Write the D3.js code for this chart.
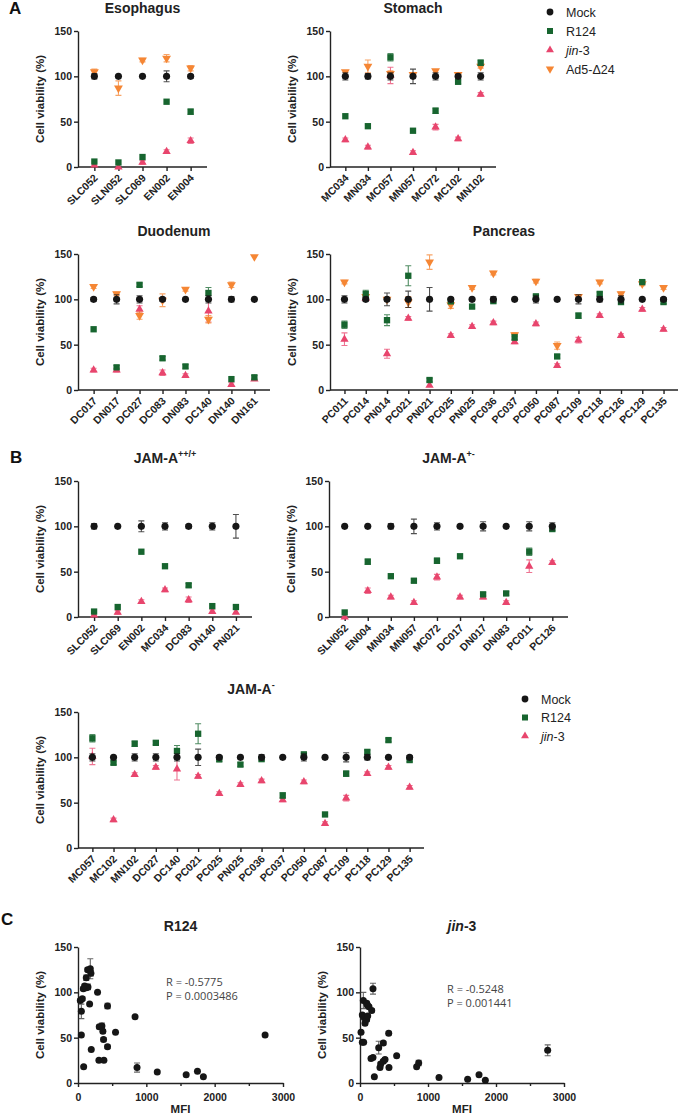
<!DOCTYPE html>
<html>
<head>
<meta charset="utf-8">
<script src="https://cdn.jsdelivr.net/npm/d3@7"></script>
<style>
  body { margin: 0; background: #fff; }
  svg { display: block; }
</style>
</head>
<body>
<svg id="chart"></svg>
<script>
// values: each point is [mean, error]
const esoCats = ['SLC052', 'SLN052', 'SLC069', 'EN002', 'EN004'];
const esoMock = [[100, 3], [100, 1], [100, 1], [100, 6], [100, 2]];
const esoR124 = [[6, 1], [5, 1], [11, 1], [72, 1], [61, 3]];
const esoJin3 = [[2, 1], [0, 1], [5, 2], [17, 2], [29, 3]];
const esoAd5 = [[105, 3], [87, 8], [118, 2], [120, 4], [109, 3]];

const stoCats = ['MC034', 'MN034', 'MC057', 'MN057', 'MC072', 'MC102', 'MN102'];
const stoMock = [[100, 4], [100, 3], [100, 4], [100, 8], [100, 4], [100, 2], [100, 4]];
const stoR124 = [[56, 1], [45, 1], [121, 4], [40, 2], [62, 3], [94, 2], [115, 3]];
const stoJin3 = [[30, 2], [22, 2], [101, 9], [16, 2], [44, 3], [31, 2], [80, 2]];
const stoAd5 = [[105, 1], [111, 7], [103, 3], [102, 2], [106, 1], [102, 1], [111, 2]];

const duoCats = ['DC017', 'DN017', 'DC027', 'DC083', 'DN083', 'DC140', 'DN140', 'DN161'];
const duoMock = [[100, 2], [100, 5], [100, 4], [100, 2], [100, 1], [100, 4], [100, 3], [100, 1]];
const duoR124 = [[67, 1], [25, 2], [116, 2], [35, 2], [26, 2], [107, 6], [12, 1], [14, 2]];
const duoJin3 = [[22, 2], [22, 2], [89, 4], [19, 3], [16, 2], [87, 12], [6, 2], [12, 1]];
const duoAd5 = [[114, 2], [106, 2], [82, 4], [99, 7], [111, 2], [78, 4], [116, 3], [147, 1]];

const panCats = ['PC011', 'PC014', 'PN014', 'PC021', 'PN021', 'PC025', 'PN025', 'PC036',
    'PC037', 'PC050', 'PC087', 'PC109', 'PC118', 'PC126', 'PC129', 'PC135'];
const panMock = [[100, 4], [100, 2], [100, 7], [100, 9], [100, 13], [100, 2], [100, 1], [100, 3],
    [100, 1], [100, 4], [100, 1], [100, 5], [100, 3], [100, 4], [100, 1], [100, 2]];
const panR124 = [[72, 4], [106, 4], [77, 6], [126, 11], [11, 2], [98, 3], [92, 2], [98, 2],
    [58, 3], [103, 3], [37, 2], [82, 3], [106, 2], [97, 2], [119, 2], [97, 2]];
const panJin3 = [[56, 7], [101, 2], [40, 5], [79, 2], [5, 1], [60, 2], [70, 2], [74, 2],
    [53, 2], [73, 2], [27, 2], [55, 3], [82, 2], [60, 2], [89, 2], [67, 2]];
const panAd5 = [[119, 2], [103, 2], [100, 2], [97, 6], [141, 8], [94, 4], [113, 2], [129, 2],
    [61, 2], [120, 2], [49, 4], [103, 2], [119, 2], [106, 2], [117, 2], [113, 2]];

const jppCats = ['SLC052', 'SLC069', 'EN002', 'MC034', 'DC083', 'DN140', 'PN021'];
const jppMock = [[100, 3], [100, 1], [100, 6], [100, 4], [100, 2], [100, 4], [100, 13]];
const jppR124 = [[6, 1], [11, 1], [72, 1], [56, 1], [35, 2], [12, 1], [11, 2]];
const jppJin3 = [[2, 1], [5, 2], [17, 2], [30, 2], [19, 3], [6, 2], [5, 1]];

const jpmCats = ['SLN052', 'EN004', 'MN034', 'MN057', 'MC072', 'DC017', 'DN017', 'DN083', 'PC011', 'PC126'];
const jpmMock = [[100, 1], [100, 1], [100, 3], [100, 8], [100, 4], [100, 1], [100, 5], [100, 1], [100, 5], [100, 4]];
const jpmR124 = [[5, 1], [61, 3], [45, 1], [40, 2], [62, 3], [67, 1], [25, 2], [26, 2], [72, 4], [97, 2]];
const jpmJin3 = [[0, 1], [29, 3], [22, 2], [16, 2], [44, 3], [22, 2], [22, 2], [16, 2], [56, 7], [60, 2]];

const jmCats = ['MC057', 'MC102', 'MN102', 'DC027', 'DC140', 'PC021', 'PC025', 'PN025', 'PC036',
    'PC037', 'PC050', 'PC087', 'PC109', 'PC118', 'PC129', 'PC135'];
const jmMock = [[100, 4], [100, 1], [100, 4], [100, 4], [100, 4], [100, 9], [100, 2], [100, 1], [100, 3],
    [100, 1], [100, 4], [100, 1], [100, 5], [100, 3], [100, 1], [100, 2]];
const jmR124 = [[121, 4], [94, 2], [115, 3], [116, 2], [107, 6], [126, 11], [98, 3], [92, 2], [98, 2],
    [58, 3], [103, 3], [37, 2], [82, 3], [106, 2], [119, 2], [97, 2]];
const jmJin3 = [[101, 9], [31, 2], [81, 2], [89, 2], [87, 12], [79, 2], [60, 2], [70, 2], [74, 2],
    [53, 2], [73, 2], [27, 2], [55, 3], [82, 2], [89, 2], [67, 2]];

// panel C: MFI against viability
const r124Mfi = [34, 63, 49, 49, 78, 121, 146, 97, 121, 141, 180, 189, 170, 286, 432, 311,
    350, 364, 374, 432, 549, 194, 83, 306, 379, 835, 864, 1160, 1583, 1748, 1835, 2738];
const r124Val = [91, 93, 79, 53, 104, 105, 106, 107, 116, 125, 126, 121, 87, 100, 85, 62,
    63, 57, 48, 40, 56, 37, 18, 25, 25, 73, 17, 12, 9, 13, 7, 53];
const r124Err = [2, 2, 8, 1, 2, 2, 3, 2, 3, 2, 11, 3, 1, 1, 3, 2,
    3, 2, 2, 2, 1, 1, 1, 1, 1, 1, 5, 1, 1, 1, 1, 1];

const jinMfi = [15, 34, 54, 49, 34, 64, 74, 98, 113, 108, 132, 172, 98, 191, 422, 343, 275,
    162, 191, 539, 304, 294, 343, 368, 426, 211, 833, 863, 1162, 1583, 1750, 1843, 2760];
const jinVal = [56, 45, 45, 91, 75, 72, 66, 70, 74, 86, 84, 80, 88, 104, 55, 44, 39,
    27, 28, 30, 21, 17, 24, 26, 17, 7, 18, 22, 6, 4, 9, 3, 36];
const jinErr = [1, 1, 1, 9, 2, 2, 2, 2, 2, 2, 2, 2, 2, 6, 2, 2, 7,
    1, 1, 1, 2, 1, 2, 2, 1, 1, 1, 3, 1, 1, 1, 1, 6];

const viabilityTicks = [0, 50, 100, 150];
const mfiTicks = [0, 1000, 2000, 3000];
const mfiMinorTicks = [500, 1500, 2500];

const FONT = 'Arial, "Liberation Sans", Helvetica, sans-serif';
const colors = { mock: '#161616', r124: '#17652f', jin3: '#e8456d', ad5: '#f58634' };
const symbolType = { mock: d3.symbolCircle, r124: d3.symbolSquare, jin3: d3.symbolTriangle, ad5: d3.symbolTriangle };
const symbolSize = { mock: 40, r124: 40, jin3: 30, ad5: 34 };

const svg = d3.select('#chart')
    .attr('width', 685)
    .attr('height', 1117)
    .style('font-family', FONT);

svg.append('rect').attr('width', 685).attr('height', 1117).attr('fill', '#fff');

const marker = (key, scale = 1) => d3.symbol().type(symbolType[key]).size(symbolSize[key] * scale)();

function styleAxis(g) {
    g.selectAll('path, line').attr('stroke', '#222').attr('stroke-width', 1.4);
    g.selectAll('text').attr('fill', '#222').style('font-weight', 'bold').style('font-size', '10.5px').style('font-family', FONT);
}

function yAxis(g, y, x0, y0, y1) {
    g.append('g')
        .attr('transform', `translate(${x0},0)`)
        .call(d3.axisLeft(y).tickValues(viabilityTicks).tickSize(4).tickSizeOuter(0).tickPadding(2))
        .call(styleAxis);

    g.append('text')
        .attr('transform', `translate(${x0 - 34},${(y0 + y1) / 2}) rotate(-90)`)
        .attr('text-anchor', 'middle')
        .style('font-weight', 'bold')
        .style('font-size', '11.5px')
        .attr('fill', '#222')
        .text('Cell viability (%)');
}

function title(g, x, y, main, sup, italicPart) {
    const t = g.append('text')
        .attr('x', x).attr('y', y)
        .attr('text-anchor', 'middle')
        .style('font-weight', 'bold')
        .style('font-size', '14px')
        .attr('fill', '#222');
    if (italicPart) t.append('tspan').style('font-style', 'italic').text(italicPart);
    t.append('tspan').text(main);
    if (sup) t.append('tspan').attr('dy', -6).style('font-size', '9px').text(sup);
}

function errorBars(g, xs, ys, color, cap) {
    // xs: pixel x, ys: [[top, bottom]] in pixels
    xs.forEach((xv, i) => {
        const [top, bottom] = ys[i];
        if (Math.abs(bottom - top) < 2) return;
        const path = `M${xv - cap},${top}H${xv + cap}M${xv},${top}V${bottom}M${xv - cap},${bottom}H${xv + cap}`;
        g.append('path').attr('d', path).attr('stroke', color).attr('stroke-width', 1.1)
            .attr('fill', 'none').attr('opacity', 0.75);
    });
}

function dotPanel({ cats, series, x0, x1, y0, y1, name, sup }) {
    const g = svg.append('g');
    const x = d3.scalePoint().domain(cats).range([x0, x1]).padding(0.68);
    const y = d3.scaleLinear().domain([0, 150]).range([y1, y0]);

    yAxis(g, y, x0, y0, y1);

    const xg = g.append('g')
        .attr('transform', `translate(0,${y1})`)
        .call(d3.axisBottom(x).tickSize(4).tickSizeOuter(0))
        .call(styleAxis);
    xg.select('.domain').attr('d', `M${x0},0H${x1}`);
    xg.selectAll('.tick text')
        .attr('x', 0).attr('y', 0).attr('dy', '0.35em')
        .attr('text-anchor', 'end')
        .attr('transform', 'translate(1,9) rotate(-45)');

    title(g, (x0 + x1) / 2, y0 - 18, name, sup);

    // draw order: jin-3, Ad5, R124, Mock on top
    ['jin3', 'ad5', 'r124', 'mock'].forEach((key) => {
        const data = series[key];
        if (!data) return;
        const xs = cats.map(c => x(c));
        errorBars(g, xs, data.map(d => [y(d[0] + d[1]), y(d[0] - d[1])]), colors[key], 3);
        g.append('g').selectAll('path')
            .data(data)
            .join('path')
            .attr('d', marker(key))
            .attr('transform', (d, i) => `translate(${xs[i]},${y(d[0])})${key === 'ad5' ? ' rotate(180)' : ''}`)
            .attr('fill', colors[key]);
    });
}

function scatterPanel({ mfi, val, err, x0, x1, y0, y1, name, italicPart, r, p, annX, annY }) {
    const g = svg.append('g');
    const x = d3.scaleLinear().domain([0, 3000]).range([x0, x1]);
    const y = d3.scaleLinear().domain([0, 150]).range([y1, y0]);

    yAxis(g, y, x0, y0, y1);

    g.append('g')
        .attr('transform', `translate(0,${y1})`)
        .call(d3.axisBottom(x).tickValues(mfiTicks).tickFormat(d3.format('d')).tickSize(4).tickSizeOuter(0).tickPadding(7))
        .call(styleAxis);
    g.append('g')
        .attr('transform', `translate(0,${y1})`)
        .call(d3.axisBottom(x).tickValues(mfiMinorTicks).tickSize(3).tickFormat(''))
        .call(styleAxis)
        .select('.domain').remove();

    g.append('text')
        .attr('x', (x0 + x1) / 2).attr('y', y1 + 30)
        .attr('text-anchor', 'middle')
        .style('font-weight', 'bold').style('font-size', '11.5px')
        .attr('fill', '#222')
        .text('MFI');

    title(g, (x0 + x1) / 2, y0 - 16, name, null, italicPart);

    const xs = mfi.map(m => x(m));
    errorBars(g, xs, val.map((v, i) => [y(v + err[i]), y(v - err[i])]), '#333', 3);
    g.append('g').selectAll('circle')
        .data(val)
        .join('circle')
        .attr('cx', (d, i) => xs[i])
        .attr('cy', d => y(d))
        .attr('r', 3.5)
        .attr('fill', '#161616');

    const ann = g.append('g')
        .style('font-family', '"Open Sans", "DejaVu Sans", sans-serif')
        .style('font-size', '11px')
        .attr('fill', '#444');
    ann.append('text').attr('x', annX).attr('y', annY).text(`R = ${r}`);
    ann.append('text').attr('x', annX).attr('y', annY + 14).text(`P = ${p}`);
}

function legend(x, y, step, keys, labels, narrow) {
    const g = svg.append('g').attr('transform', `translate(${x},${y})`);
    keys.forEach((key, i) => {
        g.append('path')
            .attr('d', marker(key, 0.9))
            .attr('transform', `translate(0,${i * step})${key === 'ad5' ? ' rotate(180)' : ''}`)
            .attr('fill', colors[key]);
        const t = g.append('text')
            .attr('x', 16).attr('y', i * step).attr('dy', '0.36em')
            .style('font-size', '12.5px')
            .style('font-family', narrow ? '"Liberation Sans Narrow", "Arial Narrow", ' + FONT : FONT)
            .attr('fill', '#222');
        if (key === 'jin3') {
            t.append('tspan').style('font-style', 'italic').text('jin');
            t.append('tspan').text('-3');
        } else {
            t.text(labels[i]);
        }
    });
}

function panelLetter(x, y, letter) {
    svg.append('text').attr('x', x).attr('y', y)
        .style('font-weight', 'bold').style('font-size', '17px')
        .attr('fill', '#111').text(letter);
}

panelLetter(9, 14, 'A');
panelLetter(10, 463, 'B');
panelLetter(1, 925, 'C');

dotPanel({ cats: esoCats, series: { mock: esoMock, r124: esoR124, jin3: esoJin3, ad5: esoAd5 },
    x0: 78, x1: 207, y0: 31, y1: 167, name: 'Esophagus' });
dotPanel({ cats: stoCats, series: { mock: stoMock, r124: stoR124, jin3: stoJin3, ad5: stoAd5 },
    x0: 330, x1: 496, y0: 31, y1: 167, name: 'Stomach' });
dotPanel({ cats: duoCats, series: { mock: duoMock, r124: duoR124, jin3: duoJin3, ad5: duoAd5 },
    x0: 78, x1: 270, y0: 254, y1: 390, name: 'Duodenum' });
dotPanel({ cats: panCats, series: { mock: panMock, r124: panR124, jin3: panJin3, ad5: panAd5 },
    x0: 330, x1: 678, y0: 254, y1: 390, name: 'Pancreas' });

dotPanel({ cats: jppCats, series: { mock: jppMock, r124: jppR124, jin3: jppJin3 },
    x0: 78, x1: 252, y0: 481, y1: 617, name: 'JAM-A', sup: '++/+' });
dotPanel({ cats: jpmCats, series: { mock: jpmMock, r124: jpmR124, jin3: jpmJin3 },
    x0: 329, x1: 568, y0: 481, y1: 617, name: 'JAM-A', sup: '+-' });
dotPanel({ cats: jmCats, series: { mock: jmMock, r124: jmR124, jin3: jmJin3 },
    x0: 78, x1: 424, y0: 712, y1: 848, name: 'JAM-A', sup: '-' });

legend(550, 12, 19, ['mock', 'r124', 'jin3', 'ad5'], ['Mock', 'R124', 'jin-3', 'Ad5-Δ24'], false);
legend(525, 699, 18.5, ['mock', 'r124', 'jin3'], ['Mock', 'R124', 'jin-3'], true);

scatterPanel({ mfi: r124Mfi, val: r124Val, err: r124Err, x0: 78, x1: 283, y0: 947, y1: 1083,
    name: 'R124', r: '-0.5775', p: '0.0003486', annX: 166, annY: 986 });
scatterPanel({ mfi: jinMfi, val: jinVal, err: jinErr, x0: 360, x1: 564, y0: 947, y1: 1083,
    name: '-3', italicPart: 'jin', r: '-0.5248', p: '0.001441', annX: 447, annY: 993 });
</script>
</body>
</html>
